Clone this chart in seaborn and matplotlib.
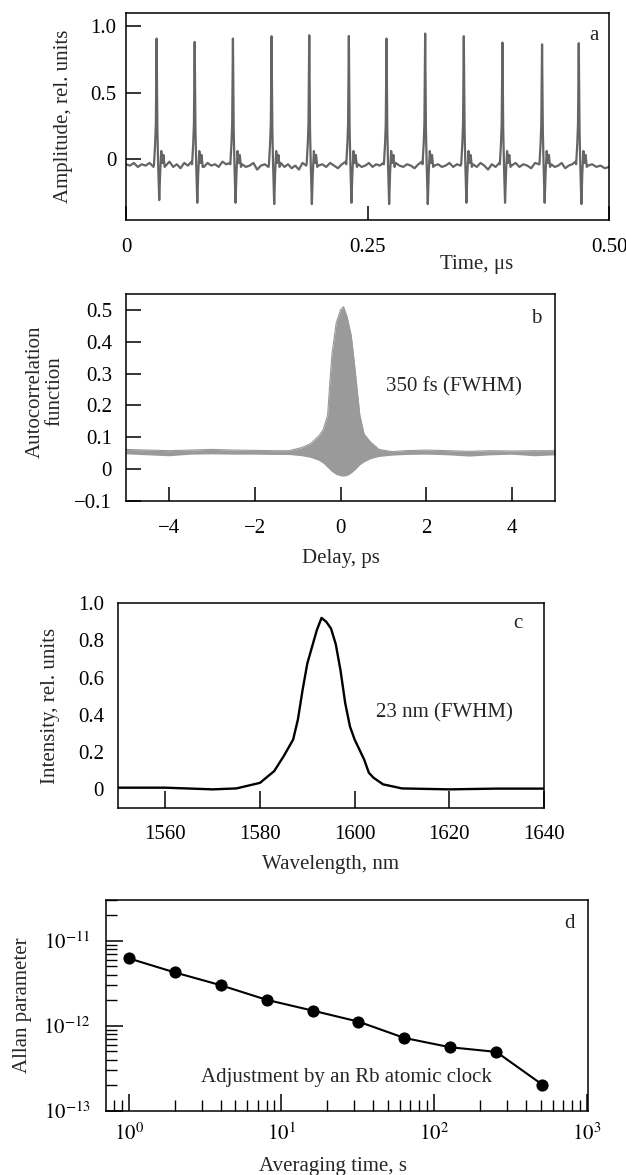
import numpy as np
import pandas as pd
import matplotlib
matplotlib.use("Agg")
import matplotlib.pyplot as plt
import seaborn as sns
from matplotlib.ticker import LogLocator, NullFormatter, FixedLocator

sns.set_theme(style="white")
plt.rcParams['font.family'] = ['Liberation Serif', 'DejaVu Serif']
plt.rcParams['mathtext.fontset'] = 'stix'
plt.rcParams['font.size'] = 15

# ---------------- Panel a: pulse train ----------------
pulse_time = [0.032, 0.0714, 0.111, 0.151, 0.190, 0.231, 0.270, 0.310, 0.350, 0.390, 0.431, 0.469]
pulse_peak = [0.907, 0.882, 0.907, 0.925, 0.932, 0.927, 0.907, 0.945, 0.925, 0.877, 0.864, 0.872]
pulse_dip = [-0.31, -0.33, -0.33, -0.34, -0.34, -0.33, -0.34, -0.34, -0.33, -0.33, -0.33, -0.34]
# shape of each pulse: offset (us) and level ('P' peak, 'D' dip)
pulse_dt = [-0.0030, -0.0018, -0.0011, -0.0003, 0.0005, 0.0013, 0.0024, 0.0034, 0.0045, 0.0056, 0.0068, 0.0080]
pulse_lvl = [-0.04, 0.12, 0.26, 'P', 0.22, -0.05, 'D', -0.10, 0.06, -0.03, 0.03, -0.06]
baseline_segments = [
    [-0.04, -0.05, -0.03, -0.06, -0.04, -0.05, -0.03, -0.06],
    [-0.05, -0.02, -0.06, -0.04, -0.07, -0.03, -0.05, -0.02],
    [-0.06, -0.03, -0.05, -0.04, -0.06, -0.02, -0.04, -0.03],
    [-0.04, -0.06, -0.05, -0.03, -0.08, -0.05, -0.04, -0.06],
    [-0.03, -0.06, -0.04, -0.07, -0.05, -0.08, -0.03, -0.05],
    [-0.05, -0.04, -0.06, -0.03, -0.05, -0.07, -0.04, -0.02],
    [-0.04, -0.06, -0.05, -0.03, -0.06, -0.04, -0.05, -0.03],
    [-0.03, -0.05, -0.06, -0.04, -0.05, -0.07, -0.04, -0.02],
    [-0.05, -0.04, -0.06, -0.05, -0.03, -0.06, -0.04, -0.05],
    [-0.04, -0.06, -0.03, -0.05, -0.08, -0.04, -0.06, -0.03],
    [-0.05, -0.03, -0.06, -0.04, -0.05, -0.07, -0.03, -0.04],
    [-0.04, -0.06, -0.05, -0.03, -0.07, -0.05, -0.04, -0.02],
    [-0.05, -0.04, -0.06, -0.05, -0.07, -0.06],
]

# ---------------- Panel b: autocorrelation envelope ----------------
b_delay = [-5, -4.5, -4, -3.5, -3, -2.5, -2, -1.5, -1.2, -0.9, -0.7, -0.5, -0.4, -0.3, -0.25,
           -0.2, -0.1, 0.0, 0.07, 0.15, 0.25, 0.35, 0.45, 0.55, 0.7, 0.9, 1.2, 1.5, 2, 2.5,
           3, 3.5, 4, 4.5, 5]
b_upper = [0.062, 0.060, 0.058, 0.060, 0.062, 0.060, 0.059, 0.058, 0.058, 0.068, 0.080, 0.105,
           0.125, 0.17, 0.27, 0.36, 0.46, 0.50, 0.51, 0.48, 0.42, 0.30, 0.17, 0.11, 0.085,
           0.062, 0.055, 0.058, 0.060, 0.058, 0.056, 0.058, 0.057, 0.058, 0.058]
b_lower = [0.048, 0.045, 0.042, 0.047, 0.048, 0.047, 0.047, 0.046, 0.046, 0.042, 0.037, 0.027,
           0.018, 0.005, -0.002, -0.008, -0.017, -0.021, -0.022, -0.020, -0.012, 0.000, 0.014,
           0.023, 0.033, 0.040, 0.044, 0.046, 0.047, 0.045, 0.041, 0.045, 0.047, 0.042, 0.045]

# ---------------- Panel c: spectrum ----------------
c_wavelength = [1550, 1560, 1570, 1575, 1580, 1583, 1585, 1587, 1588, 1589, 1590, 1591, 1592,
                1593, 1594, 1595, 1596, 1597, 1598, 1599, 1600, 1602, 1603, 1604, 1606, 1610,
                1620, 1630, 1640]
c_intensity = [0.009, 0.009, 0.0, 0.005, 0.035, 0.098, 0.178, 0.267, 0.374, 0.534, 0.676, 0.765,
               0.854, 0.92, 0.899, 0.863, 0.78, 0.64, 0.463, 0.338, 0.267, 0.16, 0.089, 0.062,
               0.027, 0.005, 0.0, 0.004, 0.004]

# ---------------- Panel d: Allan parameter ----------------
d_time = [1, 2, 4, 8, 16, 32, 64, 128, 256, 512]
d_allan = [6.2e-12, 4.24e-12, 3.0e-12, 2.02e-12, 1.51e-12, 1.12e-12, 7.2e-13, 5.6e-13, 4.94e-13, 2.04e-13]

W, H = 626, 1175
fig = plt.figure(figsize=(W / 100, H / 100), dpi=100)

def add_ax(left, right, top, bottom):
    return fig.add_axes([left / W, 1 - bottom / H, (right - left) / W, (bottom - top) / H])

def style(ax):
    for s in ax.spines.values():
        s.set_color('black')
        s.set_linewidth(1.1)
    ax.tick_params(direction='in', color='black', width=1.1, labelsize=15, labelcolor='black',
                   bottom=True, left=True, top=False, right=False)

# ----- a -----
ax = add_ax(126, 609, 13, 220)
ts, vs = [], []
bounds = [0.0] + pulse_time + [0.5]
for k, seg in enumerate(baseline_segments):
    start = bounds[k] + (0.0092 if k > 0 else 0.0)
    end = bounds[k + 1] - (0.0035 if k < len(pulse_time) else 0.0)
    n = len(seg)
    for j, v in enumerate(seg):
        ts.append(start + (end - start) * j / (n - 1))
        vs.append(v)
    if k < len(pulse_time):
        t0 = pulse_time[k]
        for dt, lvl in zip(pulse_dt, pulse_lvl):
            val = pulse_peak[k] if lvl == 'P' else (pulse_dip[k] if lvl == 'D' else lvl)
            ts.append(t0 + dt)
            vs.append(val)
df_a = pd.DataFrame({'t': ts, 'v': vs})
sns.lineplot(data=df_a, x='t', y='v', ax=ax, color='#4a4a4a', lw=1.6, sort=False,
             estimator=None, alpha=0.85)
ax.set_xlim(0, 0.5)
ax.set_ylim(-0.46, 1.10)
ax.set_xticks([0, 0.25, 0.5])
ax.set_xticklabels(['0', '0.25', '0.50'])
ax.set_yticks([0, 0.5, 1.0])
ax.set_yticklabels(['0', '0.5', '1.0'])
style(ax)
ax.tick_params(axis='x', length=10, pad=13)
ax.tick_params(axis='y', length=11, pad=7)
ax.set_xlabel('Time, μs', fontsize=15)
ax.xaxis.set_label_coords(0.725, -0.17)
ax.set_ylabel('Amplitude, rel. units', fontsize=15)
ax.yaxis.set_label_coords(-0.11, 0.5)
ax.text(0.4845, 0.93, 'a', fontsize=15, ha='center', va='center')

# ----- b -----
ax = add_ax(126, 555, 294, 501)
ax.fill_between(b_delay, b_lower, b_upper, color='#9a9a9a', lw=0)
sns.lineplot(x=b_delay, y=b_upper, ax=ax, color='#9a9a9a', lw=0.8, estimator=None)
ax.set_xlim(-5, 5)
ax.set_ylim(-0.1, 0.55)
ax.set_xticks([-4, -2, 0, 2, 4])
ax.set_yticks([-0.1, 0, 0.1, 0.2, 0.3, 0.4, 0.5])
ax.set_yticklabels(['\u22120.1', '0', '0.1', '0.2', '0.3', '0.4', '0.5'])
style(ax)
ax.tick_params(axis='x', length=10, pad=13)
ax.tick_params(axis='y', length=11, pad=10)
ax.set_xlabel('Delay, ps', fontsize=15, labelpad=8)
ax.set_ylabel('Autocorrelation\nfunction', fontsize=15, linespacing=1.0)
ax.yaxis.set_label_coords(-0.144, 0.53)
ax.text(1.056, 0.26, '350 fs (FWHM)', fontsize=15, ha='left', va='center')
ax.text(4.56, 0.472, 'b', fontsize=15, ha='center', va='center')

# ----- c -----
ax = add_ax(118, 544, 603, 808)
sns.lineplot(x=c_wavelength, y=c_intensity, ax=ax, color='black', lw=1.7, estimator=None)
ax.set_xlim(1550, 1640)
ax.set_ylim(-0.1, 1.0)
ax.set_xticks([1560, 1580, 1600, 1620, 1640])
ax.set_yticks([0, 0.2, 0.4, 0.6, 0.8, 1.0])
ax.set_yticklabels(['0', '0.2', '0.4', '0.6', '0.8', '1.0'])
style(ax)
ax.tick_params(axis='x', length=12, pad=12)
ax.tick_params(axis='y', length=0, pad=10)
ax.set_xlabel('Wavelength, nm', fontsize=15, labelpad=8)
ax.set_ylabel('Intensity, rel. units', fontsize=15)
ax.yaxis.set_label_coords(-0.137, 0.5)
ax.text(1604.6, 0.41, '23 nm (FWHM)', fontsize=15, ha='left', va='center')
ax.text(1634.5, 0.89, 'c', fontsize=15, ha='center', va='center')

# ----- d -----
ax = add_ax(106, 588, 900, 1111)
sns.lineplot(x=d_time, y=d_allan, ax=ax, color='black', lw=1.5, estimator=None,
             marker='o', markersize=8, markeredgecolor='black', markerfacecolor='black')
ax.set_xscale('log')
ax.set_yscale('log')
ax.set_xlim(0.71, 1020)
ax.set_ylim(1e-13, 3e-11)
ax.xaxis.set_major_locator(FixedLocator([1, 10, 100, 1000]))
ax.set_xticklabels([r'$10^{0}$', r'$10^{1}$', r'$10^{2}$', r'$10^{3}$'])
ax.xaxis.set_minor_locator(LogLocator(base=10, subs=np.arange(2, 10), numticks=20))
ax.xaxis.set_minor_formatter(NullFormatter())
ax.yaxis.set_major_locator(FixedLocator([1e-13, 1e-12, 1e-11]))
ax.set_yticklabels([r'$10^{-13}$', r'$10^{-12}$', r'$10^{-11}$'])
ax.yaxis.set_minor_locator(LogLocator(base=10, subs=np.arange(2, 10), numticks=20))
ax.yaxis.set_minor_formatter(NullFormatter())
style(ax)
ax.tick_params(axis='both', which='major', length=12)
ax.tick_params(axis='both', which='minor', direction='in', length=8, width=1.0, color='black',
               bottom=True, left=True, top=False, right=False)
ax.tick_params(axis='x', which='major', pad=9)
ax.tick_params(axis='y', which='major', pad=11)
ax.set_xlabel('Averaging time, s', fontsize=15, labelpad=8)
ax.xaxis.set_label_coords(0.47, -0.22)
ax.set_ylabel('Allan parameter', fontsize=15)
ax.yaxis.set_label_coords(-0.154, 0.5)
ax.text(2.96, 2.49e-13, 'Adjustment by an Rb atomic clock', fontsize=15, ha='left', va='center')
ax.text(776, 1.58e-11, 'd', fontsize=15, ha='center', va='center')

fig.savefig('out.png', dpi=100, facecolor='white')
